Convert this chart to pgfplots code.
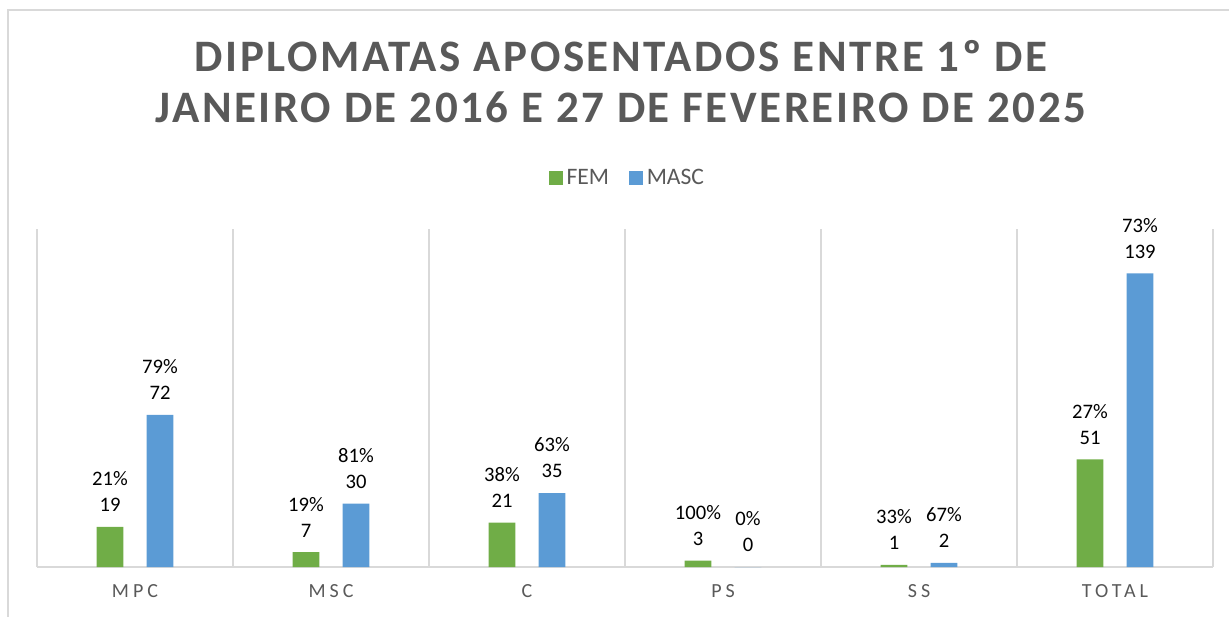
\documentclass[border=0pt]{standalone}
\usepackage{fontspec}
\setmainfont{Carlito}
\usepackage{pgfplots}
\pgfplotsset{compat=1.18}
\definecolor{fem}{HTML}{70AD47}
\definecolor{masc}{HTML}{5B9BD5}
\definecolor{txtgray}{HTML}{595959}
\definecolor{gridgray}{HTML}{D9D9D9}
\begin{document}
\begin{tikzpicture}
\path[use as bounding box] (0,0) rectangle (614.5pt,308pt);
% chart frame
\draw[gridgray, line width=0.6pt] (4pt,-5pt) -- (4pt,303pt) -- (620pt,303pt);
% title
\node[anchor=base, text=txtgray, font=\fontsize{22.5}{25}\selectfont\bfseries\addfontfeature{LetterSpace=5.7}]
  at (310.5pt,272pt) {DIPLOMATAS APOSENTADOS ENTRE 1º DE};
\node[anchor=base, text=txtgray, font=\fontsize{22.5}{25}\selectfont\bfseries\addfontfeature{LetterSpace=5.7}]
  at (310.5pt,246.5pt) {JANEIRO DE 2016 E 27 DE FEVEREIRO DE 2025};
\begin{axis}[
    at={(18.5pt,24.5pt)}, anchor=south west,
    width=588pt, height=169pt, scale only axis,
    ybar=11.7pt, bar width=13.3pt,
    xmin=-0.5, xmax=5.5, ymin=0, ymax=160,
    hide y axis,
    axis x line*=bottom,
    x axis line style={gridgray, line width=0.8pt, -},
    xtick={0,1,2,3,4,5},
    xticklabels={MPC, MSC, C, PS, SS, TOTAL},
    minor xtick={-0.5,0.5,1.5,2.5,3.5,4.5,5.5},
    xminorgrids=true,
    minor grid style={gridgray, line width=0.8pt},
    major tick length=0pt, minor tick length=0pt,
    xticklabel style={text=txtgray, font=\fontsize{10}{12}\selectfont\addfontfeature{LetterSpace=20}, yshift=-5pt},
    point meta=explicit symbolic,
    nodes near coords,
    every node near coord/.append style={align=center, anchor=south, text=black,
        font=\fontsize{10.3}{13}\selectfont, yshift=4pt},
    legend columns=2,
    legend style={draw=none, fill=none, at={(axis description cs:0.503,1.151)}, anchor=center,
        font=\fontsize{11.8}{13}\selectfont, text=txtgray,
        /tikz/every even column/.append style={column sep=8pt}},
    legend image code/.code={\fill[#1] (0pt,-3.4pt) rectangle (6.8pt,3.4pt);},
]
\addplot[fill=fem, draw=none] coordinates {
    (0,19) [{21\%\\19}]
    (1,7) [{19\%\\7}]
    (2,21) [{38\%\\21}]
    (3,3) [{100\%\\3}]
    (4,1) [{33\%\\1}]
    (5,51) [{27\%\\51}]
};
\addlegendentry{FEM}
\addplot[fill=masc, draw=none] coordinates {
    (0,72) [{79\%\\72}]
    (1,30) [{81\%\\30}]
    (2,35) [{63\%\\35}]
    (3,0) [{0\%\\0}]
    (4,2) [{67\%\\2}]
    (5,139) [{73\%\\139}]
};
\addlegendentry{MASC}
\end{axis}
\end{tikzpicture}
\end{document}
